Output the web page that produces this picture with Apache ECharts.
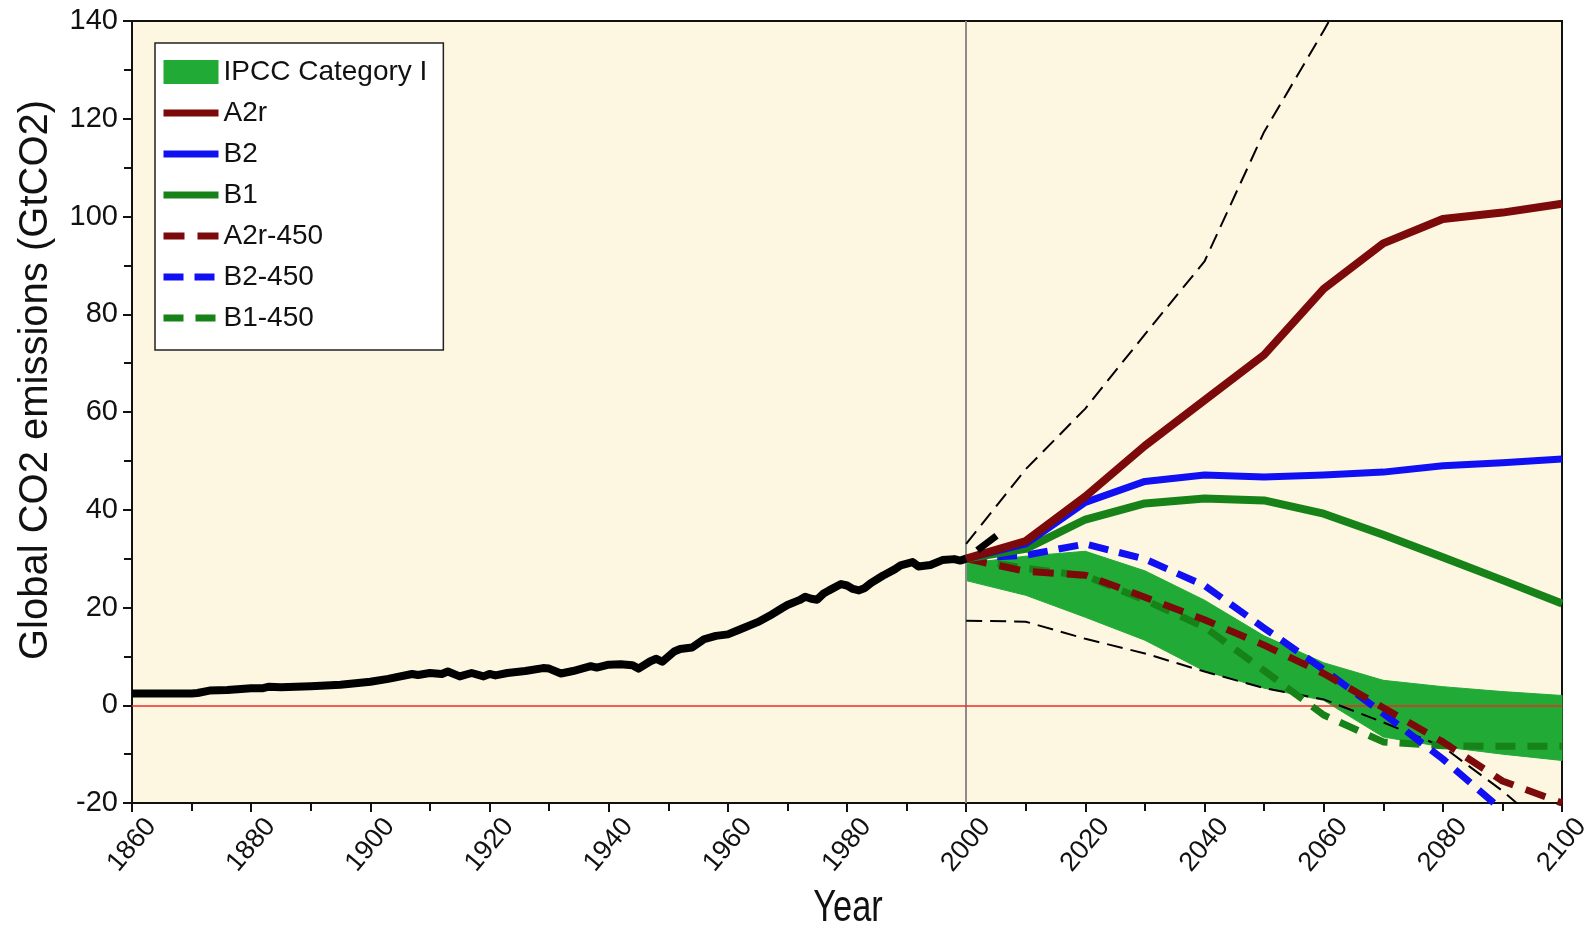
<!DOCTYPE html>
<html>
<head>
<meta charset="utf-8">
<title>Global CO2 emissions scenarios</title>
<script src="https://cdn.jsdelivr.net/npm/echarts@6/dist/echarts.min.js"></script>
<style>
  html, body { margin: 0; padding: 0; background: #ffffff; }
  #chart { width: 1587px; height: 930px; }
</style>
</head>
<body>
<div id="chart"></div>
<script>
// Historical global CO2 emissions (GtCO2), [year, value]
const historical = [
  [1860, 2.4], [1865, 2.4], [1870, 2.4], [1871, 2.5], [1873, 3.0], [1876, 3.1],
  [1880, 3.5], [1882, 3.5], [1883, 3.8], [1885, 3.7], [1890, 3.9], [1895, 4.2],
  [1900, 4.8], [1903, 5.4], [1907, 6.4], [1908, 6.2], [1910, 6.6], [1912, 6.4],
  [1913, 6.9], [1915, 5.9], [1917, 6.6], [1919, 5.9], [1920, 6.4], [1921, 6.1],
  [1923, 6.6], [1926, 7.0], [1929, 7.6], [1930, 7.5], [1932, 6.5], [1934, 7.0],
  [1937, 8.0], [1938, 7.7], [1940, 8.3], [1942, 8.4], [1944, 8.2], [1945, 7.5],
  [1947, 9.0], [1948, 9.5], [1949, 8.9], [1951, 11.0], [1952, 11.5], [1954, 11.8],
  [1956, 13.5], [1958, 14.2], [1960, 14.5], [1962, 15.5], [1965, 17.0], [1967, 18.3],
  [1969, 19.8], [1970, 20.5], [1972, 21.5], [1973, 22.2], [1974, 21.8], [1975, 21.6],
  [1976, 22.8], [1977, 23.5], [1979, 24.8], [1980, 24.5], [1981, 23.8], [1982, 23.5],
  [1983, 24.0], [1984, 25.0], [1986, 26.5], [1988, 27.8], [1989, 28.6], [1991, 29.3],
  [1992, 28.4], [1994, 28.7], [1996, 29.7], [1998, 29.9], [1999, 29.6], [2000, 30.0]
];

// Recent observations beyond 2000
const recent = [[2000, 30.0], [2006, 35.5]];

// Scenario years
const scenarioYears = [2000, 2010, 2020, 2030, 2040, 2050, 2060, 2070, 2080, 2090, 2100];

// Scenario emissions (GtCO2)
const a2r      = [30.0, 33.6, 42.7, 53.1, 62.4, 71.7, 85.2, 94.5, 99.5, 100.8, 102.6];
const b2       = [30.0, 33.0, 41.5, 45.8, 47.1, 46.7, 47.1, 47.7, 49.0, 49.6, 50.4];
const b1       = [30.0, 32.0, 38.0, 41.3, 42.3, 41.9, 39.2, 34.9, 30.3, 25.6, 20.8];
const a2r450   = [30.0, 27.4, 26.6, 22.1, 17.5, 12.3, 6.5, -0.5, -7.5, -15.5, -20.0];
const b2450    = [30.0, 30.7, 33.0, 29.9, 24.5, 15.8, 7.3, -1.7, -11.0, -21.5, -33.0];
const b1450    = [30.0, 28.0, 26.5, 21.5, 16.0, 7.1, -2.0, -7.5, -8.3, -8.4, -8.4];

// Envelope of the full scenario range (thin dashed)
const rangeHighYears = [2000, 2010, 2020, 2030, 2040, 2050, 2060, 2070];
const rangeHigh = [33.0, 48.3, 60.7, 75.9, 90.8, 117.3, 138.0, 160.0];
const rangeLow  = [17.3, 17.1, 13.6, 10.6, 6.9, 3.5, 1.2, -3.5, -8.5, -17.5, -28.0];

// IPCC Category I band
const catILow  = [25.5, 22.5, 18.0, 13.3, 7.0, 3.5, 1.0, -6.5, -8.5, -10.0, -11.3];
const catIHigh = [29.0, 30.5, 31.5, 27.5, 21.5, 14.2, 8.7, 5.1, 3.8, 2.8, 2.0];

// Axis ticks
const xTicks = { min: 1860, max: 2100, step: 20 };
const yTicks = { min: -20, max: 140, step: 20 };

const FONT = "'Liberation Sans', Arial, sans-serif";

const C = {
  darkRed: '#7d0a0a',
  blue: '#1010f2',
  green: '#178217',
  band: '#22aa36',
  black: '#000000'
};

const pairs = (xs, ys) => xs.map((x, i) => [x, ys[i]]);

function lineSeries(name, data, color, width, dash, dashOffset) {
  return {
    name: name,
    type: 'line',
    data: data,
    symbol: 'none',
    color: color,
    z: 6,
    lineStyle: {
      color: color, width: width, type: dash || 'solid',
      dashOffset: dashOffset || 0, cap: 'butt', join: 'round'
    },
    emphasis: { disabled: true },
    silent: true,
    animation: false
  };
}

// Legend entry for a line: hide the marker circle, keep the stroke
const lineEntry = name => ({ name: name, itemStyle: { opacity: 0 } });

const chart = echarts.init(document.getElementById('chart'), null, { renderer: 'canvas' });

const option = {
  backgroundColor: '#ffffff',
  animation: false,
  grid: {
    left: 132, right: 25, top: 21, bottom: 127,
    outerBoundsMode: 'none',
    containLabel: false,
    show: true,
    backgroundColor: '#fdf7e2',
    borderColor: '#111111',
    borderWidth: 2
  },
  xAxis: {
    type: 'value',
    min: xTicks.min, max: xTicks.max, interval: xTicks.step,
    axisLine: { show: true, onZero: false, lineStyle: { color: '#111', width: 2 } },
    axisTick: { show: true, inside: false, length: 9, lineStyle: { color: '#111', width: 2 } },
    minorTick: { show: true, splitNumber: 2, length: 8, lineStyle: { color: '#111', width: 2 } },
    splitLine: { show: false },
    axisLabel: {
      rotate: 50, margin: 42,
      align: 'center', verticalAlign: 'middle',
      fontFamily: FONT, fontSize: 27, color: '#111',
      formatter: v => String(v)
    }
  },
  yAxis: {
    type: 'value',
    min: yTicks.min, max: yTicks.max, interval: yTicks.step,
    axisLine: { show: true, onZero: false, lineStyle: { color: '#111', width: 2 } },
    axisTick: { show: true, inside: false, length: 9, lineStyle: { color: '#111', width: 2 } },
    minorTick: { show: true, splitNumber: 2, length: 8, lineStyle: { color: '#111', width: 2 } },
    splitLine: { show: false },
    axisLabel: {
      margin: 14,
      fontFamily: FONT, fontSize: 29, color: '#111',
      formatter: v => String(v)
    }
  },
  legend: {
    left: 155, top: 43,
    orient: 'vertical',
    backgroundColor: '#ffffff',
    borderColor: '#222222',
    borderWidth: 1.5,
    borderRadius: 0,
    padding: [14, 16, 17, 5],
    itemGap: 11,
    itemWidth: 55,
    itemHeight: 24,
    selectedMode: false,
    textStyle: { fontFamily: FONT, fontSize: 28, lineHeight: 30, color: '#111' },
    lineStyle: { width: 7 },
    data: [
      { name: 'IPCC Category I', icon: 'rect' },
      lineEntry('A2r'), lineEntry('B2'), lineEntry('B1'),
      lineEntry('A2r-450'), lineEntry('B2-450'), lineEntry('B1-450')
    ]
  },
  graphic: [
    {
      type: 'text',
      x: 36, y: 380,
      rotation: Math.PI / 2,
      style: {
        text: 'Global CO2 emissions (GtCO2)',
        font: '40px ' + FONT,
        fill: '#111',
        textAlign: 'center',
        textVerticalAlign: 'middle'
      }
    },
    {
      type: 'text',
      x: 848, y: 909,
      scaleX: 0.78,
      style: {
        text: 'Year',
        font: '44px ' + FONT,
        fill: '#111',
        textAlign: 'center',
        textVerticalAlign: 'middle'
      }
    }
  ],
  series: [
    // Category I envelope drawn as one polygon between its lower and upper edges
    {
      name: 'IPCC Category I',
      type: 'custom',
      data: scenarioYears.map((y, i) => [y, catILow[i], catIHigh[i]]),
      encode: { x: 0, y: [1, 2] },
      itemStyle: { color: C.band },
      z: 2,
      silent: true,
      renderItem: function (params, api) {
        if (params.dataIndex !== 0) return null;
        const top = scenarioYears.map((y, i) => api.coord([y, catIHigh[i]]));
        const bottom = scenarioYears.map((y, i) => api.coord([y, catILow[i]])).reverse();
        return {
          type: 'polygon',
          shape: { points: top.concat(bottom) },
          style: { fill: C.band, stroke: C.band, lineWidth: 1 }
        };
      }
    },
    // Reference lines: year 2000 and zero emissions
    {
      name: 'refs',
      type: 'line',
      data: [],
      silent: true,
      markLine: {
        silent: true,
        symbol: 'none',
        z: 5,
        label: { show: false },
        animation: false,
        data: [
          { xAxis: 2000, lineStyle: { color: '#8c8c8c', width: 2, type: 'solid' } },
          { yAxis: 0, lineStyle: { color: '#ee2a2a', width: 1.5, type: 'solid' } }
        ]
      }
    },
    lineSeries('range-high', pairs(rangeHighYears, rangeHigh), C.black, 2, [16, 8]),
    lineSeries('range-low', pairs(scenarioYears, rangeLow), C.black, 2, [16, 8]),
    lineSeries('B1-450', pairs(scenarioYears, b1450), C.green, 7, [20, 12]),
    lineSeries('B2-450', pairs(scenarioYears, b2450), C.blue, 7, [20, 11]),
    lineSeries('A2r-450', pairs(scenarioYears, a2r450), C.darkRed, 7, [21, 13]),
    lineSeries('B1', pairs(scenarioYears, b1), C.green, 8),
    lineSeries('B2', pairs(scenarioYears, b2), C.blue, 7),
    lineSeries('A2r', pairs(scenarioYears, a2r), C.darkRed, 8),
    lineSeries('historical', historical, C.black, 8),
    lineSeries('recent', recent, C.black, 7, [24, 14], 24)
  ]
};

chart.setOption(option);
</script>
</body>
</html>
